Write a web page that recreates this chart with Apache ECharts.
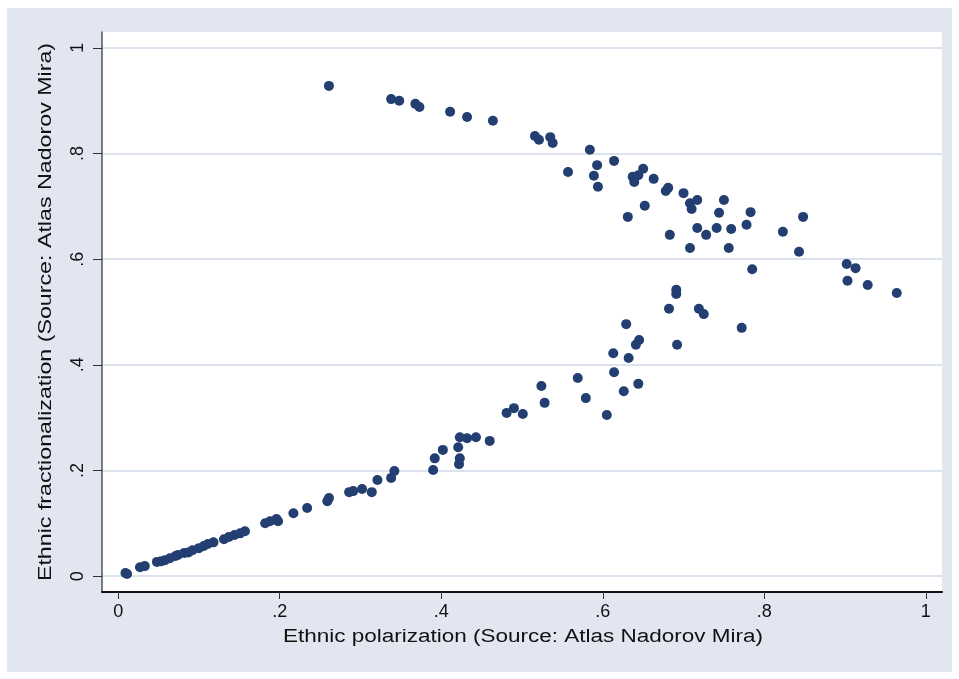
<!DOCTYPE html>
<html>
<head>
<meta charset="utf-8">
<script src="https://cdn.jsdelivr.net/npm/echarts@6/dist/echarts.min.js"></script>
<style>
  html, body { margin: 0; padding: 0; background: #fff; }
  #chart { width: 959px; height: 679px; }
</style>
</head>
<body>
<div id="chart"></div>
<script>
// Ethnic polarization (x) vs. ethnic fractionalization (y), by country
const polarization = [
  // upper branch
  0.261, 0.338, 0.348, 0.368, 0.373, 0.411, 0.432, 0.464, 0.516, 0.521,
  0.535, 0.538, 0.584, 0.557, 0.593, 0.589, 0.594, 0.614, 0.631, 0.637,
  0.644, 0.650, 0.639, 0.652, 0.663, 0.678, 0.681, 0.683, 0.700, 0.708,
  0.710, 0.717, 0.717, 0.728, 0.708, 0.741, 0.744, 0.750, 0.759, 0.756,
  0.778, 0.783, 0.785, 0.823, 0.848, 0.843, 0.902, 0.913, 0.903, 0.928,
  0.964,
  // lower branch
  0.691, 0.691, 0.682, 0.719, 0.725, 0.629, 0.772, 0.645, 0.641, 0.692,
  0.613, 0.632, 0.614, 0.569, 0.644, 0.524, 0.626, 0.579, 0.528, 0.605,
  0.481, 0.490, 0.501, 0.423, 0.432, 0.443, 0.460, 0.421, 0.392, 0.402,
  0.423, 0.422, 0.390, 0.342, 0.338, 0.321, 0.286, 0.291, 0.302, 0.314,
  0.261, 0.259, 0.234, 0.217,
  0.009, 0.011, 0.027, 0.033, 0.048, 0.053, 0.058, 0.064, 0.071, 0.074,
  0.082, 0.087, 0.092, 0.100, 0.106, 0.111, 0.118, 0.131, 0.137, 0.144,
  0.151, 0.157, 0.182, 0.188, 0.196, 0.198
];
const fractionalization = [
  0.928, 0.903, 0.900, 0.894, 0.888, 0.879, 0.869, 0.862, 0.833, 0.826,
  0.831, 0.820, 0.807, 0.765, 0.778, 0.758, 0.737, 0.786, 0.680, 0.756,
  0.759, 0.771, 0.746, 0.701, 0.752, 0.729, 0.735, 0.646, 0.725, 0.706,
  0.695, 0.712, 0.659, 0.646, 0.621, 0.659, 0.688, 0.712, 0.657, 0.621,
  0.665, 0.689, 0.581, 0.652, 0.680, 0.614, 0.591, 0.583, 0.559, 0.551,
  0.536,
  0.542, 0.534, 0.506, 0.506, 0.496, 0.477, 0.470, 0.447, 0.438, 0.438,
  0.422, 0.413, 0.386, 0.375, 0.364, 0.360, 0.350, 0.337, 0.328, 0.305,
  0.309, 0.318, 0.307, 0.263, 0.261, 0.263, 0.256, 0.244, 0.223, 0.239,
  0.223, 0.212, 0.201, 0.199, 0.186, 0.182, 0.159, 0.161, 0.165, 0.159,
  0.148, 0.142, 0.129, 0.119,
  0.006, 0.004, 0.017, 0.019, 0.027, 0.028, 0.030, 0.034, 0.038, 0.040,
  0.044, 0.045, 0.049, 0.053, 0.057, 0.061, 0.064, 0.070, 0.074, 0.078,
  0.081, 0.085, 0.100, 0.104, 0.108, 0.104
];
const xTicks = [0, 0.2, 0.4, 0.6, 0.8, 1];
const yTicks = [0, 0.2, 0.4, 0.6, 0.8, 1];
const xTitle = 'Ethnic polarization (Source: Atlas Nadorov Mira)';
const yTitle = 'Ethnic fractionalization (Source: Atlas Nadorov Mira)';

// Stata-style labels: ".2" instead of "0.2"
function stataLabel(v) {
  if (Math.abs(v) < 1e-9) return '0';
  if (Math.abs(v - 1) < 1e-9) return '1';
  return String(Math.round(v * 10) / 10).replace(/^0/, '');
}

const points = polarization.map((x, i) => [x, fractionalization[i]]);

const FONT = '"Liberation Sans", Arial, sans-serif';
const chart = echarts.init(document.getElementById('chart'), null, { renderer: 'canvas' });

chart.setOption({
  backgroundColor: '#ffffff',
  animation: false,
  graphic: [
    {
      type: 'rect', z: -10, silent: true,
      shape: { x: 7, y: 8, width: 945, height: 664 },
      style: { fill: '#e1e6f0' }
    },
    {
      type: 'text', z: 10, silent: true,
      x: 523, y: 637, scaleX: 1.25,
      style: { text: xTitle, font: '18px ' + FONT, fill: '#111', align: 'center', verticalAlign: 'middle' }
    },
    {
      type: 'text', z: 10, silent: true,
      x: 46, y: 312, rotation: Math.PI / 2, scaleX: 1.29,
      style: { text: yTitle, font: '18px ' + FONT, fill: '#111', align: 'center', verticalAlign: 'middle' }
    }
  ],
  grid: {
    left: 102, right: 17, top: 32, bottom: 87,
    show: true, backgroundColor: '#ffffff', borderWidth: 0,
    containLabel: false
  },
  xAxis: {
    type: 'value', min: -0.02, max: 1.02,
    axisLine: { show: true, onZero: false, lineStyle: { color: '#111', width: 2 } },
    axisTick: { show: true, customValues: xTicks, length: 7, lineStyle: { color: '#333', width: 1 } },
    axisLabel: {
      customValues: xTicks, margin: 11, color: '#111', fontSize: 18, fontFamily: FONT,
      formatter: stataLabel
    },
    splitLine: { show: false }
  },
  yAxis: {
    type: 'value', min: -0.03, max: 1.03,
    axisLine: { show: true, onZero: false, lineStyle: { color: '#555', width: 1.5 } },
    axisTick: { show: true, customValues: yTicks, length: 9, lineStyle: { color: '#333', width: 1 } },
    axisLabel: {
      customValues: yTicks, margin: 15, rotate: 90, color: '#111', fontSize: 18, fontFamily: FONT,
      formatter: stataLabel
    },
    splitLine: { show: true, lineStyle: { color: '#dde3ee', width: 2 } }
  },
  series: [{
    type: 'scatter',
    data: points,
    symbol: 'circle',
    symbolSize: 10,
    itemStyle: { color: '#233f72', opacity: 1, borderWidth: 0 },
    clip: false
  }]
});
</script>
</body>
</html>
